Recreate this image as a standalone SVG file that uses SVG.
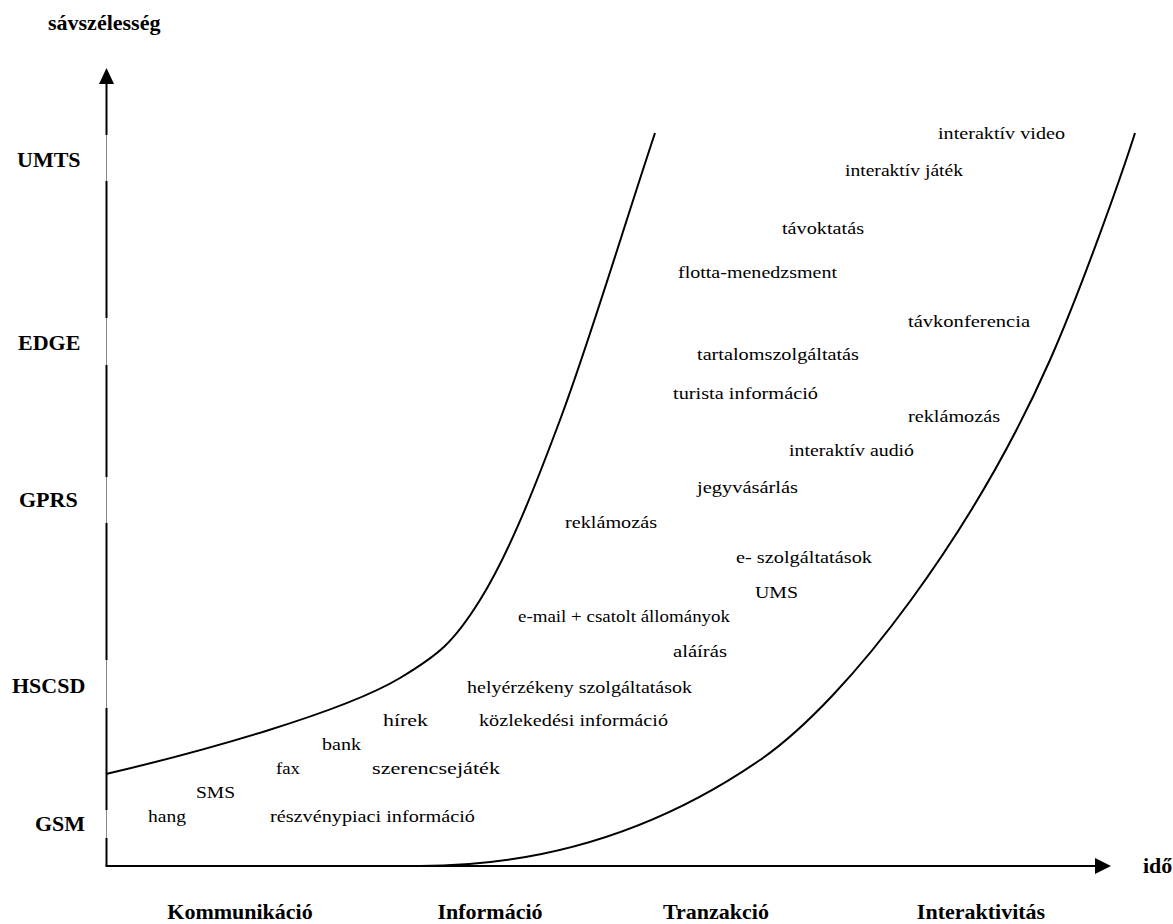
<svg xmlns="http://www.w3.org/2000/svg" width="1173" height="924" viewBox="0 0 1173 924">
<style>
.t{font-family:"Liberation Serif","DejaVu Serif",serif;font-size:17px;fill:#000}
.b{font-family:"Times New Roman","Liberation Serif",Tinos,serif;font-size:22px;font-weight:bold;fill:#000}
.ax{stroke:#000;stroke-width:2;fill:none}
.thin{stroke:#888;stroke-width:1;fill:none}
.cv{stroke:#000;stroke-width:2;fill:none}
.c{text-anchor:middle}
</style>
<rect width="1173" height="924" fill="#fff"/>
<g id="axes">
<line class="thin" x1="106.5" y1="84" x2="106.5" y2="866"/>
<path class="ax" d="M106.5,83V135M106.5,181V318M106.5,365V477M106.5,523V660M106.5,708V810M106.5,838V866"/>
<polygon points="106.5,68 99,84 114,84" fill="#000"/>
<line class="ax" x1="105.5" y1="866" x2="1096" y2="866"/>
<polygon points="1111,866 1095,858 1095,874" fill="#000"/>
</g>
<g id="connectors">
<path id="curve-left" class="cv" d="M106,774 C200,752 342.5,712.5 400,678 C438.3,655 453.3,643 480,600 C506.7,557 530.8,498.2 560,420 C589.2,342.2 623.3,228.3 655,133"/>
<path id="curve-right" class="cv" d="M420,866 C560,866 670,822 760,760 C850,698 975,530 1050,360 C1080,292 1120,180 1135,133"/>
</g>
<g id="axis-labels">
<text id="y-title" class="b" x="48" y="30">sávszélesség</text>
<text id="x-title" class="b" x="1143" y="873">idő</text>
<text id="umts" class="b" x="17" y="167">UMTS</text>
<text id="edge" class="b" x="18" y="350">EDGE</text>
<text id="gprs" class="b" x="19" y="507">GPRS</text>
<text id="hscsd" class="b" x="12" y="693">HSCSD</text>
<text id="gsm" class="b" x="35" y="831">GSM</text>
<text id="kom" class="b c" x="240" y="919">Kommunikáció</text>
<text id="inf" class="b c" x="490" y="919">Információ</text>
<text id="tra" class="b c" x="716" y="919">Tranzakció</text>
<text id="int" class="b c" x="981" y="919">Interaktivitás</text>
</g>
<g id="services">
<text class="t" x="938" y="139" textLength="127" lengthAdjust="spacingAndGlyphs">interaktív video</text>
<text class="t" x="845" y="176" textLength="118" lengthAdjust="spacingAndGlyphs">interaktív játék</text>
<text class="t" x="782" y="234" textLength="82" lengthAdjust="spacingAndGlyphs">távoktatás</text>
<text class="t" x="678" y="278" textLength="159" lengthAdjust="spacingAndGlyphs">flotta-menedzsment</text>
<text class="t" x="908" y="327" textLength="122" lengthAdjust="spacingAndGlyphs">távkonferencia</text>
<text class="t" x="697" y="360" textLength="162" lengthAdjust="spacingAndGlyphs">tartalomszolgáltatás</text>
<text class="t" x="673" y="399" textLength="145" lengthAdjust="spacingAndGlyphs">turista információ</text>
<text class="t" x="908" y="422" textLength="92" lengthAdjust="spacingAndGlyphs">reklámozás</text>
<text class="t" x="789" y="456" textLength="125" lengthAdjust="spacingAndGlyphs">interaktív audió</text>
<text class="t" x="697" y="493" textLength="101" lengthAdjust="spacingAndGlyphs">jegyvásárlás</text>
<text class="t" x="565" y="528" textLength="92" lengthAdjust="spacingAndGlyphs">reklámozás</text>
<text class="t" x="736" y="563" textLength="136" lengthAdjust="spacingAndGlyphs">e- szolgáltatások</text>
<text class="t" x="755" y="598" textLength="43" lengthAdjust="spacingAndGlyphs">UMS</text>
<text class="t" x="518" y="622" textLength="212" lengthAdjust="spacingAndGlyphs">e-mail + csatolt állományok</text>
<text class="t" x="673" y="657" textLength="54" lengthAdjust="spacingAndGlyphs">aláírás</text>
<text class="t" x="467" y="693" textLength="225" lengthAdjust="spacingAndGlyphs">helyérzékeny szolgáltatások</text>
<text class="t" x="383" y="726" textLength="45" lengthAdjust="spacingAndGlyphs">hírek</text>
<text class="t" x="479" y="726" textLength="189" lengthAdjust="spacingAndGlyphs">közlekedési információ</text>
<text class="t" x="322" y="750" textLength="39" lengthAdjust="spacingAndGlyphs">bank</text>
<text class="t" x="276" y="774" textLength="24" lengthAdjust="spacingAndGlyphs">fax</text>
<text class="t" x="372" y="774" textLength="128" lengthAdjust="spacingAndGlyphs">szerencsejáték</text>
<text class="t" x="196" y="798" textLength="39" lengthAdjust="spacingAndGlyphs">SMS</text>
<text class="t" x="148" y="822" textLength="38" lengthAdjust="spacingAndGlyphs">hang</text>
<text class="t" x="270" y="822" textLength="205" lengthAdjust="spacingAndGlyphs">részvénypiaci információ</text>
</g>
</svg>
